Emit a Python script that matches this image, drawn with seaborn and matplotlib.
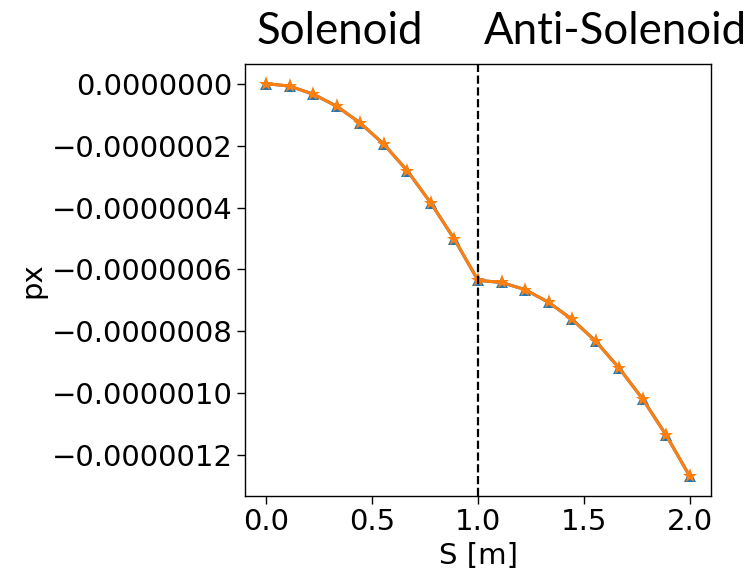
import numpy as np
import pandas as pd
import seaborn as sns
import matplotlib
matplotlib.use("Agg")
import matplotlib.pyplot as plt
from matplotlib.ticker import FuncFormatter

# position along the beamline [m]
s_vals = [0.0, 0.111, 0.222, 0.333, 0.444, 0.556, 0.667, 0.778, 0.889, 1.0,
          1.111, 1.222, 1.333, 1.444, 1.556, 1.667, 1.778, 1.889, 2.0]
# px in units of 1e-7
px_track = [0.0, -0.08, -0.34, -0.73, -1.27, -1.96, -2.82, -3.86, -5.03, -6.35,
            -6.42, -6.65, -7.06, -7.61, -8.32, -9.19, -10.19, -11.36, -12.68]
px_model = [0.0, -0.08, -0.34, -0.73, -1.27, -1.96, -2.82, -3.86, -5.03, -6.35,
            -6.42, -6.65, -7.06, -7.61, -8.32, -9.19, -10.19, -11.36, -12.68]
section_labels = ["Solenoid", "Anti-Solenoid"]

sns.set_style("ticks", {"axes.edgecolor": "black", "xtick.color": "black",
                        "ytick.color": "black", "text.color": "black",
                        "axes.labelcolor": "black"})
plt.rcParams["font.family"] = ["DejaVu Sans"]

df = pd.DataFrame({
    "s": s_vals,
    "track": np.array(px_track) * 1e-7,
    "model": np.array(px_model) * 1e-7,
})

fig = plt.figure(figsize=(7.52, 5.72), dpi=100)
ax = fig.add_axes([0.3258, 0.1329, 0.6197, 0.7552])

sns.lineplot(data=df, x="s", y="track", marker="^", color="#1f77b4",
             markersize=9, markeredgewidth=0, linewidth=2.2, ax=ax)
sns.lineplot(data=df, x="s", y="model", marker="*", color="#ff7f0e",
             markersize=11, markeredgewidth=0, linewidth=2.2, ax=ax)
ax.axvline(1.0, color="black", linestyle="--", linewidth=1.6)

ax.set_xticks([0.0, 0.5, 1.0, 1.5, 2.0])
ax.set_yticks(np.arange(0, -13e-7, -2e-7))
ax.yaxis.set_major_formatter(FuncFormatter(lambda v, p: f"{v:.7f}".replace("-", "\u2212")
                                           if abs(v) > 1e-12 else "0.0000000"))
ax.tick_params(labelsize=21, length=5.5, width=1.0)
for sp in ax.spines.values():
    sp.set_linewidth(1.0)
ax.set_xlabel("S [m]", fontsize=21, labelpad=4)
ax.set_ylabel("px", fontsize=21)

fig.text(0.452, 0.945, section_labels[0], ha="center", va="center", fontsize=31.5, family=["Lato", "DejaVu Sans"])
fig.text(0.818, 0.945, section_labels[1], ha="center", va="center", fontsize=31.5, family=["Lato", "DejaVu Sans"])

fig.savefig("out.png", dpi=100)
